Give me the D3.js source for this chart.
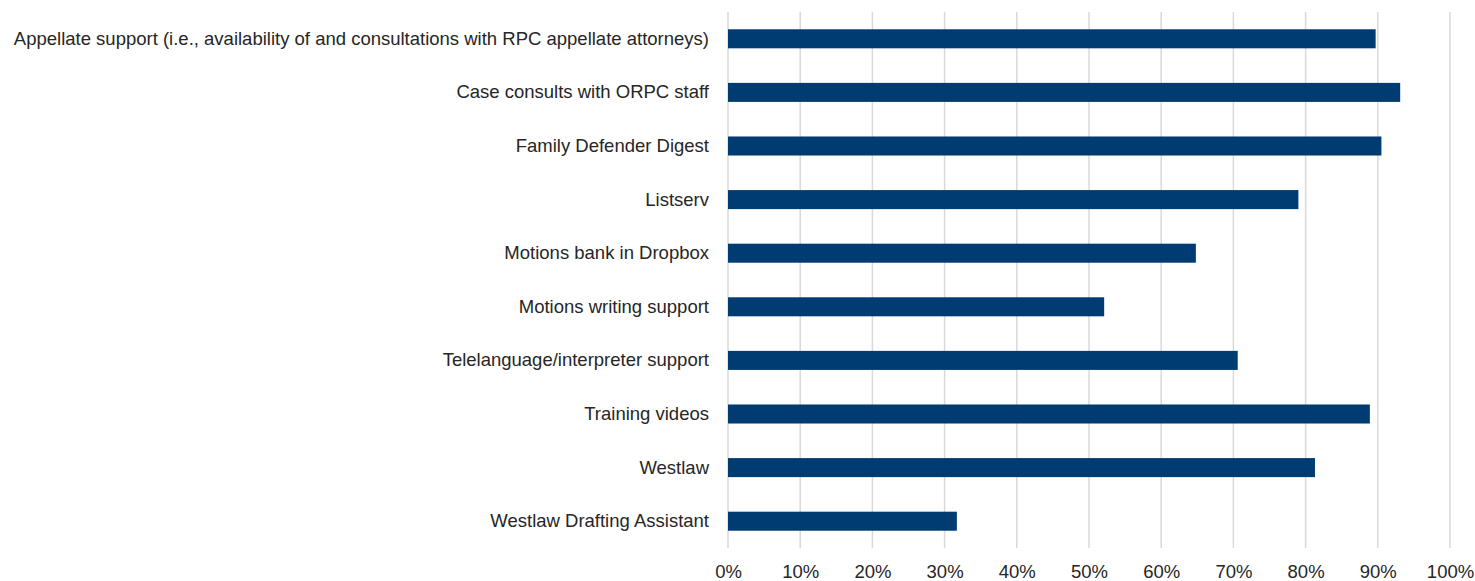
<!DOCTYPE html>
<html>
<head>
<meta charset="utf-8">
<script src="https://cdn.jsdelivr.net/npm/d3@7"></script>
<style>
  html, body { margin: 0; padding: 0; background: #ffffff; }
  svg { display: block; }
  text { font-family: "Liberation Sans", Arial, sans-serif; fill: #262626; }
</style>
</head>
<body>
<svg id="chart" width="1475" height="581"></svg>
<script>
// Resources rated by respondents, share of "helpful" responses
const categories = [
  "Appellate support (i.e., availability of and consultations with RPC appellate attorneys)",
  "Case consults with ORPC staff",
  "Family Defender Digest",
  "Listserv",
  "Motions bank in Dropbox",
  "Motions writing support",
  "Telelanguage/interpreter support",
  "Training videos",
  "Westlaw",
  "Westlaw Drafting Assistant"
];
const values = [0.897, 0.931, 0.905, 0.790, 0.648, 0.521, 0.706, 0.889, 0.813, 0.317];
const tickValues = [0, 0.1, 0.2, 0.3, 0.4, 0.5, 0.6, 0.7, 0.8, 0.9, 1.0];

const margin = { top: 12, right: 25, bottom: 33, left: 728 };
const width = 1475, height = 581;

const svg = d3.select("#chart");

const x = d3.scaleLinear()
  .domain([0, 1])
  .range([margin.left, width - margin.right]);

const y = d3.scaleBand()
  .domain(categories)
  .range([margin.top, height - margin.bottom])
  .paddingInner(0.645)
  .paddingOuter(0.3225);

// vertical gridlines
svg.append("g")
  .selectAll("line")
  .data(tickValues)
  .join("line")
  .attr("x1", d => x(d))
  .attr("x2", d => x(d))
  .attr("y1", margin.top)
  .attr("y2", height - margin.bottom)
  .attr("stroke", "#d9d9d9")
  .attr("stroke-width", 1.5);

// bars
svg.append("g")
  .selectAll("rect")
  .data(values)
  .join("rect")
  .attr("x", x(0))
  .attr("y", (d, i) => y(categories[i]))
  .attr("width", d => x(d) - x(0))
  .attr("height", y.bandwidth())
  .attr("fill", "#003b71");

// category labels
const yAxis = d3.axisLeft(y).tickSize(0).tickPadding(19);
const gy = svg.append("g")
  .attr("transform", `translate(${x(0)},0)`)
  .call(yAxis);
gy.select(".domain").remove();
gy.selectAll("text")
  .style("font-size", "18.5px")
  .style("font-family", "'Liberation Sans', Arial, sans-serif")
  .attr("fill", "#262626");

// percentage axis
const xAxis = d3.axisBottom(x)
  .tickValues(tickValues)
  .tickFormat(d3.format(".0%"))
  .tickSize(0)
  .tickPadding(17);
const gx = svg.append("g")
  .attr("transform", `translate(0,${height - margin.bottom})`)
  .call(xAxis);
gx.select(".domain").remove();
gx.selectAll("text")
  .style("font-size", "18.5px")
  .style("font-family", "'Liberation Sans', Arial, sans-serif")
  .attr("fill", "#262626");
</script>
</body>
</html>
